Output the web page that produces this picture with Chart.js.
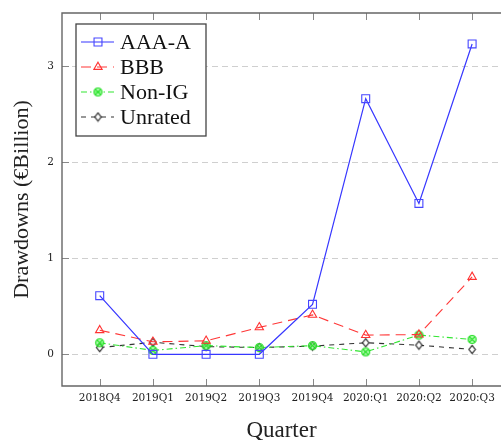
<!DOCTYPE html>
<html>
<head>
<meta charset="utf-8">
<script src="https://cdn.jsdelivr.net/npm/chart.js@4/dist/chart.umd.min.js"></script>
<style>
  html, body { margin: 0; padding: 0; background: #fff; overflow: hidden; }
  #wrap { position: relative; width: 501px; height: 440px; }
</style>
</head>
<body>
<div id="wrap"><canvas id="c"></canvas></div>
<script>
// Quarterly drawdowns by rating bucket, € billion
const quarters = ['2018Q4', '2019Q1', '2019Q2', '2019Q3', '2019Q4', '2020:Q1', '2020:Q2', '2020:Q3'];
const aaaA     = [0.61, 0, 0, 0, 0.52, 2.66, 1.57, 3.23];
const bbb      = [0.25, 0.13, 0.14, 0.28, 0.41, 0.20, 0.205, 0.805];
const nonIG    = [0.12, 0.04, 0.09, 0.07, 0.09, 0.025, 0.20, 0.155];
const unrated  = [0.07, 0.125, 0.08, 0.07, 0.085, 0.12, 0.095, 0.05];
const seriesNames = ['AAA-A', 'BBB', 'Non-IG', 'Unrated'];
const yTicks = [0, 1, 2, 3];

const toPoints = arr => arr.map((v, i) => ({ x: i, y: v }));

// Small canvases used as custom point markers
function markImg(w, h, draw) {
  const c = document.createElement('canvas');
  c.width = w; c.height = h;
  draw(c.getContext('2d'), w / 2, h / 2);
  return c;
}
const otimesMark = markImg(11, 11, (g, cx, cy) => {
  g.beginPath();
  g.arc(cx, cy, 4, 0, Math.PI * 2);
  g.fillStyle = 'rgba(120,255,120,0.55)';
  g.fill();
  g.strokeStyle = '#22dd22';
  g.lineWidth = 1.2;
  g.stroke();
  const d = 4 * Math.SQRT1_2;
  g.beginPath();
  g.moveTo(cx - d, cy - d); g.lineTo(cx + d, cy + d);
  g.moveTo(cx + d, cy - d); g.lineTo(cx - d, cy + d);
  g.stroke();
});
const diamondMark = markImg(9, 11, (g, cx, cy) => {
  g.beginPath();
  g.moveTo(cx, cy - 4.2); g.lineTo(cx + 3.2, cy); g.lineTo(cx, cy + 4.2); g.lineTo(cx - 3.2, cy);
  g.closePath();
  g.fillStyle = '#fff';
  g.fill();
  g.strokeStyle = '#222';
  g.lineWidth = 1.1;
  g.stroke();
});

const FRAME = '#666';

// Axis frame (left, top, bottom) with inward tick marks
const framePlugin = {
  id: 'frame',
  afterDatasetsDraw(chart) {
    const { ctx, chartArea: a, scales: { x, y } } = chart;
    ctx.save();
    ctx.strokeStyle = '#888';
    ctx.lineWidth = 1;
    ctx.beginPath();
    x.ticks.forEach(t => {
      const px = Math.round(x.getPixelForValue(t.value)) + 0.5;
      ctx.moveTo(px, a.bottom); ctx.lineTo(px, a.bottom - 7);
      ctx.moveTo(px, a.top); ctx.lineTo(px, a.top + 7);
    });
    y.ticks.forEach(t => {
      const py = Math.round(y.getPixelForValue(t.value)) + 0.5;
      ctx.moveTo(a.left, py); ctx.lineTo(a.left + 7, py);
    });
    ctx.stroke();
    ctx.strokeStyle = FRAME;
    ctx.lineWidth = 1.4;
    ctx.beginPath();
    ctx.moveTo(a.right + 2, a.top);
    ctx.lineTo(a.left, a.top);
    ctx.lineTo(a.left, a.bottom);
    ctx.lineTo(a.right + 2, a.bottom);
    ctx.stroke();
    ctx.restore();
  }
};

// Boxed legend in the upper-left of the plot area
const boxLegendPlugin = {
  id: 'boxLegend',
  afterDraw(chart) {
    const { ctx, chartArea: a } = chart;
    const bx = a.left + 14, by = a.top + 11, bw = 130, bh = 112;
    ctx.save();
    ctx.fillStyle = '#fff';
    ctx.fillRect(bx, by, bw, bh);
    ctx.strokeStyle = '#444';
    ctx.lineWidth = 1.3;
    ctx.strokeRect(bx, by, bw, bh);
    chart.data.datasets.forEach((ds, i) => {
      const cy = by + 18 + i * 25;
      ctx.save();
      ctx.strokeStyle = ds.borderColor;
      ctx.lineWidth = ds.borderWidth;
      ctx.setLineDash(ds.borderDash || []);
      ctx.beginPath();
      ctx.moveTo(bx + 5, cy);
      ctx.lineTo(bx + 38, cy);
      ctx.stroke();
      ctx.setLineDash([]);
      ctx.strokeStyle = ds.pointBorderColor;
      ctx.fillStyle = ds.pointBackgroundColor;
      ctx.lineWidth = ds.pointBorderWidth;
      Chart.helpers.drawPoint(ctx, { pointStyle: ds.pointStyle, radius: ds.pointRadius, rotation: 0, borderWidth: ds.pointBorderWidth }, bx + 22, cy);
      ctx.restore();
      ctx.fillStyle = '#111';
      ctx.font = '22px "Liberation Serif"';
      ctx.textBaseline = 'middle';
      ctx.textAlign = 'left';
      ctx.fillText(ds.label, bx + 44, cy + 1);
    });
    ctx.restore();
  }
};

new Chart(document.getElementById('c'), {
  type: 'line',
  data: {
    datasets: [
      {
        label: seriesNames[0], data: toPoints(aaaA),
        borderColor: 'rgb(55,55,255)', borderWidth: 1.2,
        pointStyle: 'rect', pointRadius: 5.6, pointHoverRadius: 5.6,
        pointBorderColor: 'rgb(70,70,255)', pointBackgroundColor: 'rgba(0,0,0,0)', pointBorderWidth: 1.1
      },
      {
        label: seriesNames[1], data: toPoints(bbb),
        borderColor: 'rgb(255,55,55)', borderWidth: 1.1, borderDash: [10, 6],
        pointStyle: 'triangle', pointRadius: 4.8, pointHoverRadius: 4.8,
        pointBorderColor: 'rgb(255,50,50)', pointBackgroundColor: 'rgba(0,0,0,0)', pointBorderWidth: 1.1
      },
      {
        label: seriesNames[2], data: toPoints(nonIG),
        borderColor: 'rgb(50,230,50)', borderWidth: 1.1, borderDash: [6, 3, 1.5, 3],
        pointStyle: otimesMark, pointRadius: 4, pointHoverRadius: 4,
        pointBorderColor: '#22dd22', pointBackgroundColor: 'rgba(0,0,0,0)', pointBorderWidth: 1
      },
      {
        label: seriesNames[3], data: toPoints(unrated),
        borderColor: '#333', borderWidth: 1.1, borderDash: [5, 5],
        pointStyle: diamondMark, pointRadius: 4, pointHoverRadius: 4,
        pointBorderColor: '#222', pointBackgroundColor: 'rgba(0,0,0,0)', pointBorderWidth: 1
      }
    ]
  },
  options: {
    responsive: true,
    maintainAspectRatio: false,
    animation: false,
    events: [],
    layout: { autoPadding: false, padding: { top: 13, right: 0, bottom: 0, left: 0 } },
    plugins: { legend: { display: false }, tooltip: { enabled: false } },
    elements: { line: { tension: 0, fill: false } },
    scales: {
      x: {
        type: 'linear',
        min: -0.709, max: 7.543,
        afterBuildTicks: s => { s.ticks = quarters.map((_, i) => ({ value: i })); },
        afterFit: s => { s.height = 54; s.paddingLeft = 0; s.paddingRight = 0; },
        grid: { display: false, drawTicks: false },
        border: { display: false },
        ticks: {
          callback: v => quarters[v],
          font: { family: 'DejaVu Serif', size: 10.5 },
          color: '#222', padding: 6, maxRotation: 0, autoSkip: false
        },
        title: {
          display: true, text: 'Quarter',
          font: { family: 'Liberation Serif', size: 23 },
          color: '#222', padding: { top: 0, bottom: -5 }
        }
      },
      y: {
        min: -0.33, max: 3.552,
        afterBuildTicks: s => { s.ticks = yTicks.map(v => ({ value: v })); },
        afterFit: s => { s.width = 62; s.paddingTop = 0; s.paddingBottom = 0; },
        grid: { color: '#cfcfcf', lineWidth: 1, drawTicks: false },
        border: { display: false, dash: [6, 4] },
        ticks: {
          font: { family: 'DejaVu Serif', size: 10.5 },
          color: '#222', padding: 8
        },
        title: {
          display: true, text: 'Drawdowns (€Billion)',
          font: { family: 'Liberation Serif', size: 22 },
          color: '#222', padding: { top: 9, bottom: 0 }
        }
      }
    }
  },
  plugins: [framePlugin, boxLegendPlugin]
});
</script>
</body>
</html>
